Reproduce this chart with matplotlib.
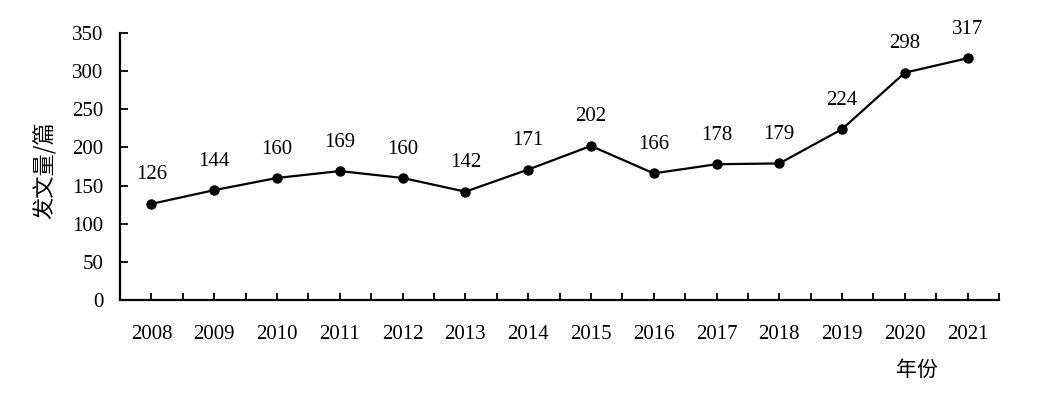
import matplotlib
matplotlib.use("Agg")
import matplotlib.pyplot as plt

years = ["2008", "2009", "2010", "2011", "2012", "2013", "2014",
         "2015", "2016", "2017", "2018", "2019", "2020", "2021"]
counts = [126, 144, 160, 169, 160, 142, 171, 202, 166, 178, 179, 224, 298, 317]

serif = ["Liberation Serif", "Noto Sans CJK SC", "DejaVu Sans"]
plt.rcParams["font.family"] = serif

fig = plt.figure(figsize=(10.41, 3.94), dpi=100)
ax = fig.add_axes([0.1153, 0.2386, 0.8444, 0.6776])

x = list(range(len(years)))
ax.plot(x, counts, color="black", lw=1.6, marker="o", markersize=6.5)
for xi, v in zip(x, counts):
    ax.annotate(str(v), (xi, v), xytext=(0, 14), textcoords="offset points",
                ha="center", va="bottom", fontsize=15)

ax.set_xlim(-0.5, len(years) - 0.5)
ax.set_ylim(0, 350)
ax.set_yticks(range(0, 351, 50))
ax.set_xticks(x)
ax.set_xticklabels(years)
ax.set_xticks([i - 0.5 for i in range(len(years) + 1)], minor=True)

for s in ["top", "right"]:
    ax.spines[s].set_visible(False)
for s in ["left", "bottom"]:
    ax.spines[s].set_linewidth(1.6)

ax.tick_params(axis="both", which="both", direction="in", width=1.3,
               labelsize=15, color="black")
ax.tick_params(axis="x", which="both", length=5, pad=18)
ax.tick_params(axis="y", length=6, pad=12)

fig.text(0.043, 0.567, "发文量/篇", rotation=90, ha="center", va="center",
         fontsize=16, family=["Noto Sans CJK SC", "DejaVu Sans"])
fig.text(0.881, 0.06, "年份", ha="center", va="center",
         fontsize=15, family=["Noto Sans CJK SC", "DejaVu Sans"])

fig.savefig("out.png", dpi=100, facecolor="white")
